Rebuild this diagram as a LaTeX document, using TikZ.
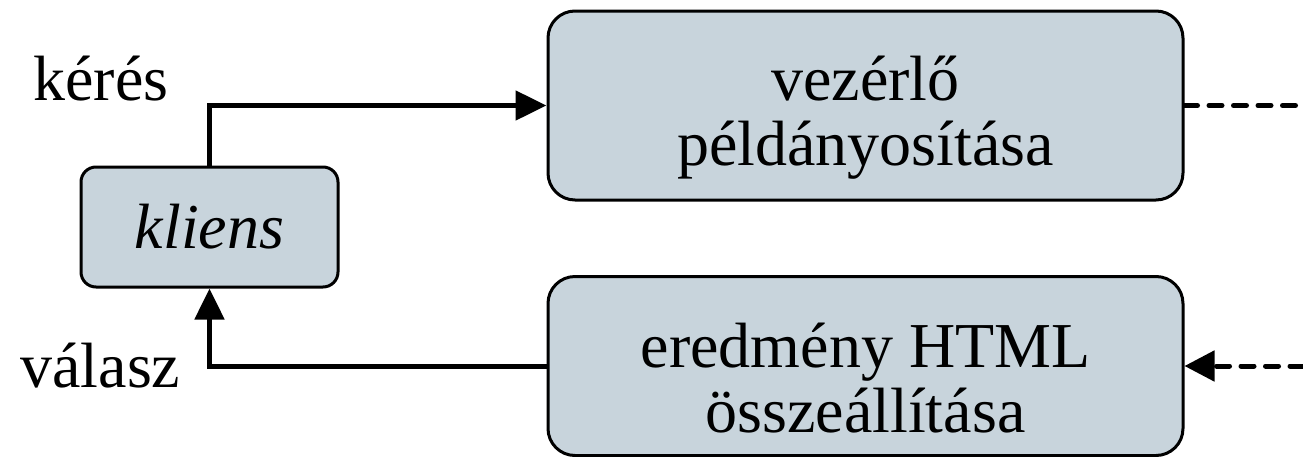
\documentclass[tikz,border=0pt]{standalone}
\usepackage{fontspec}
\setmainfont{Liberation Serif}
\usetikzlibrary{arrows.meta}
\definecolor{boxfill}{RGB}{200,212,220}
\begin{document}
\begin{tikzpicture}[x=0.5pt,y=-0.5pt,
    font=\fontsize{32}{32.5}\selectfont,
    block/.style={draw=black, line width=1.5pt, fill=boxfill, rounded corners=13.5pt,
      minimum width=317.5pt, inner sep=0pt},
    blocktext/.style={align=center, inner sep=0pt},
    flow/.style={line width=2.5pt, -{Triangle[length=15.5pt,width=14.5pt]}},
    dashline/.style={line width=2.5pt, dash pattern=on 6.5pt off 5.75pt, line cap=round}]
  \useasboundingbox (0,0) rectangle (1303,456);
  \draw
    (209.5,227) node[block, rounded corners=7.5pt, minimum width=128.5pt,
      minimum height=60pt] (kliens) {\textit{kliens}}
    (865.5,105.5) node[block, minimum height=94.5pt] (vezerlo) {}
    (865.5,366) node[block, minimum height=89.5pt] (eredmeny) {};
  \node[blocktext] (vezerlotext) at ([yshift=-6pt]vezerlo.center) {vezérlő\\példányosítása};
  \node[blocktext] (eredmenytext) at ([yshift=-6pt]eredmeny.center) {eredmény HTML\\összeállítása};
  \node[anchor=base west, inner sep=0pt] (keres) at (33,100) {kérés};
  \node[anchor=base west, inner sep=0pt] (valasz) at (20,387) {válasz};
  \coordinate (kiA) at (1303,105.5);
  \coordinate (beB) at (1303,366);
  \begin{scope}[flow]
    \draw (kliens.north) |- (vezerlo.west);
    \draw (eredmeny.west) -| (kliens.south);
  \end{scope}
  \draw[dashline] (vezerlo.east) -- (kiA);
  \draw[dashline, -{Triangle[length=15pt,width=15pt]}] (beB) -- (eredmeny.east);
\end{tikzpicture}
\end{document}
